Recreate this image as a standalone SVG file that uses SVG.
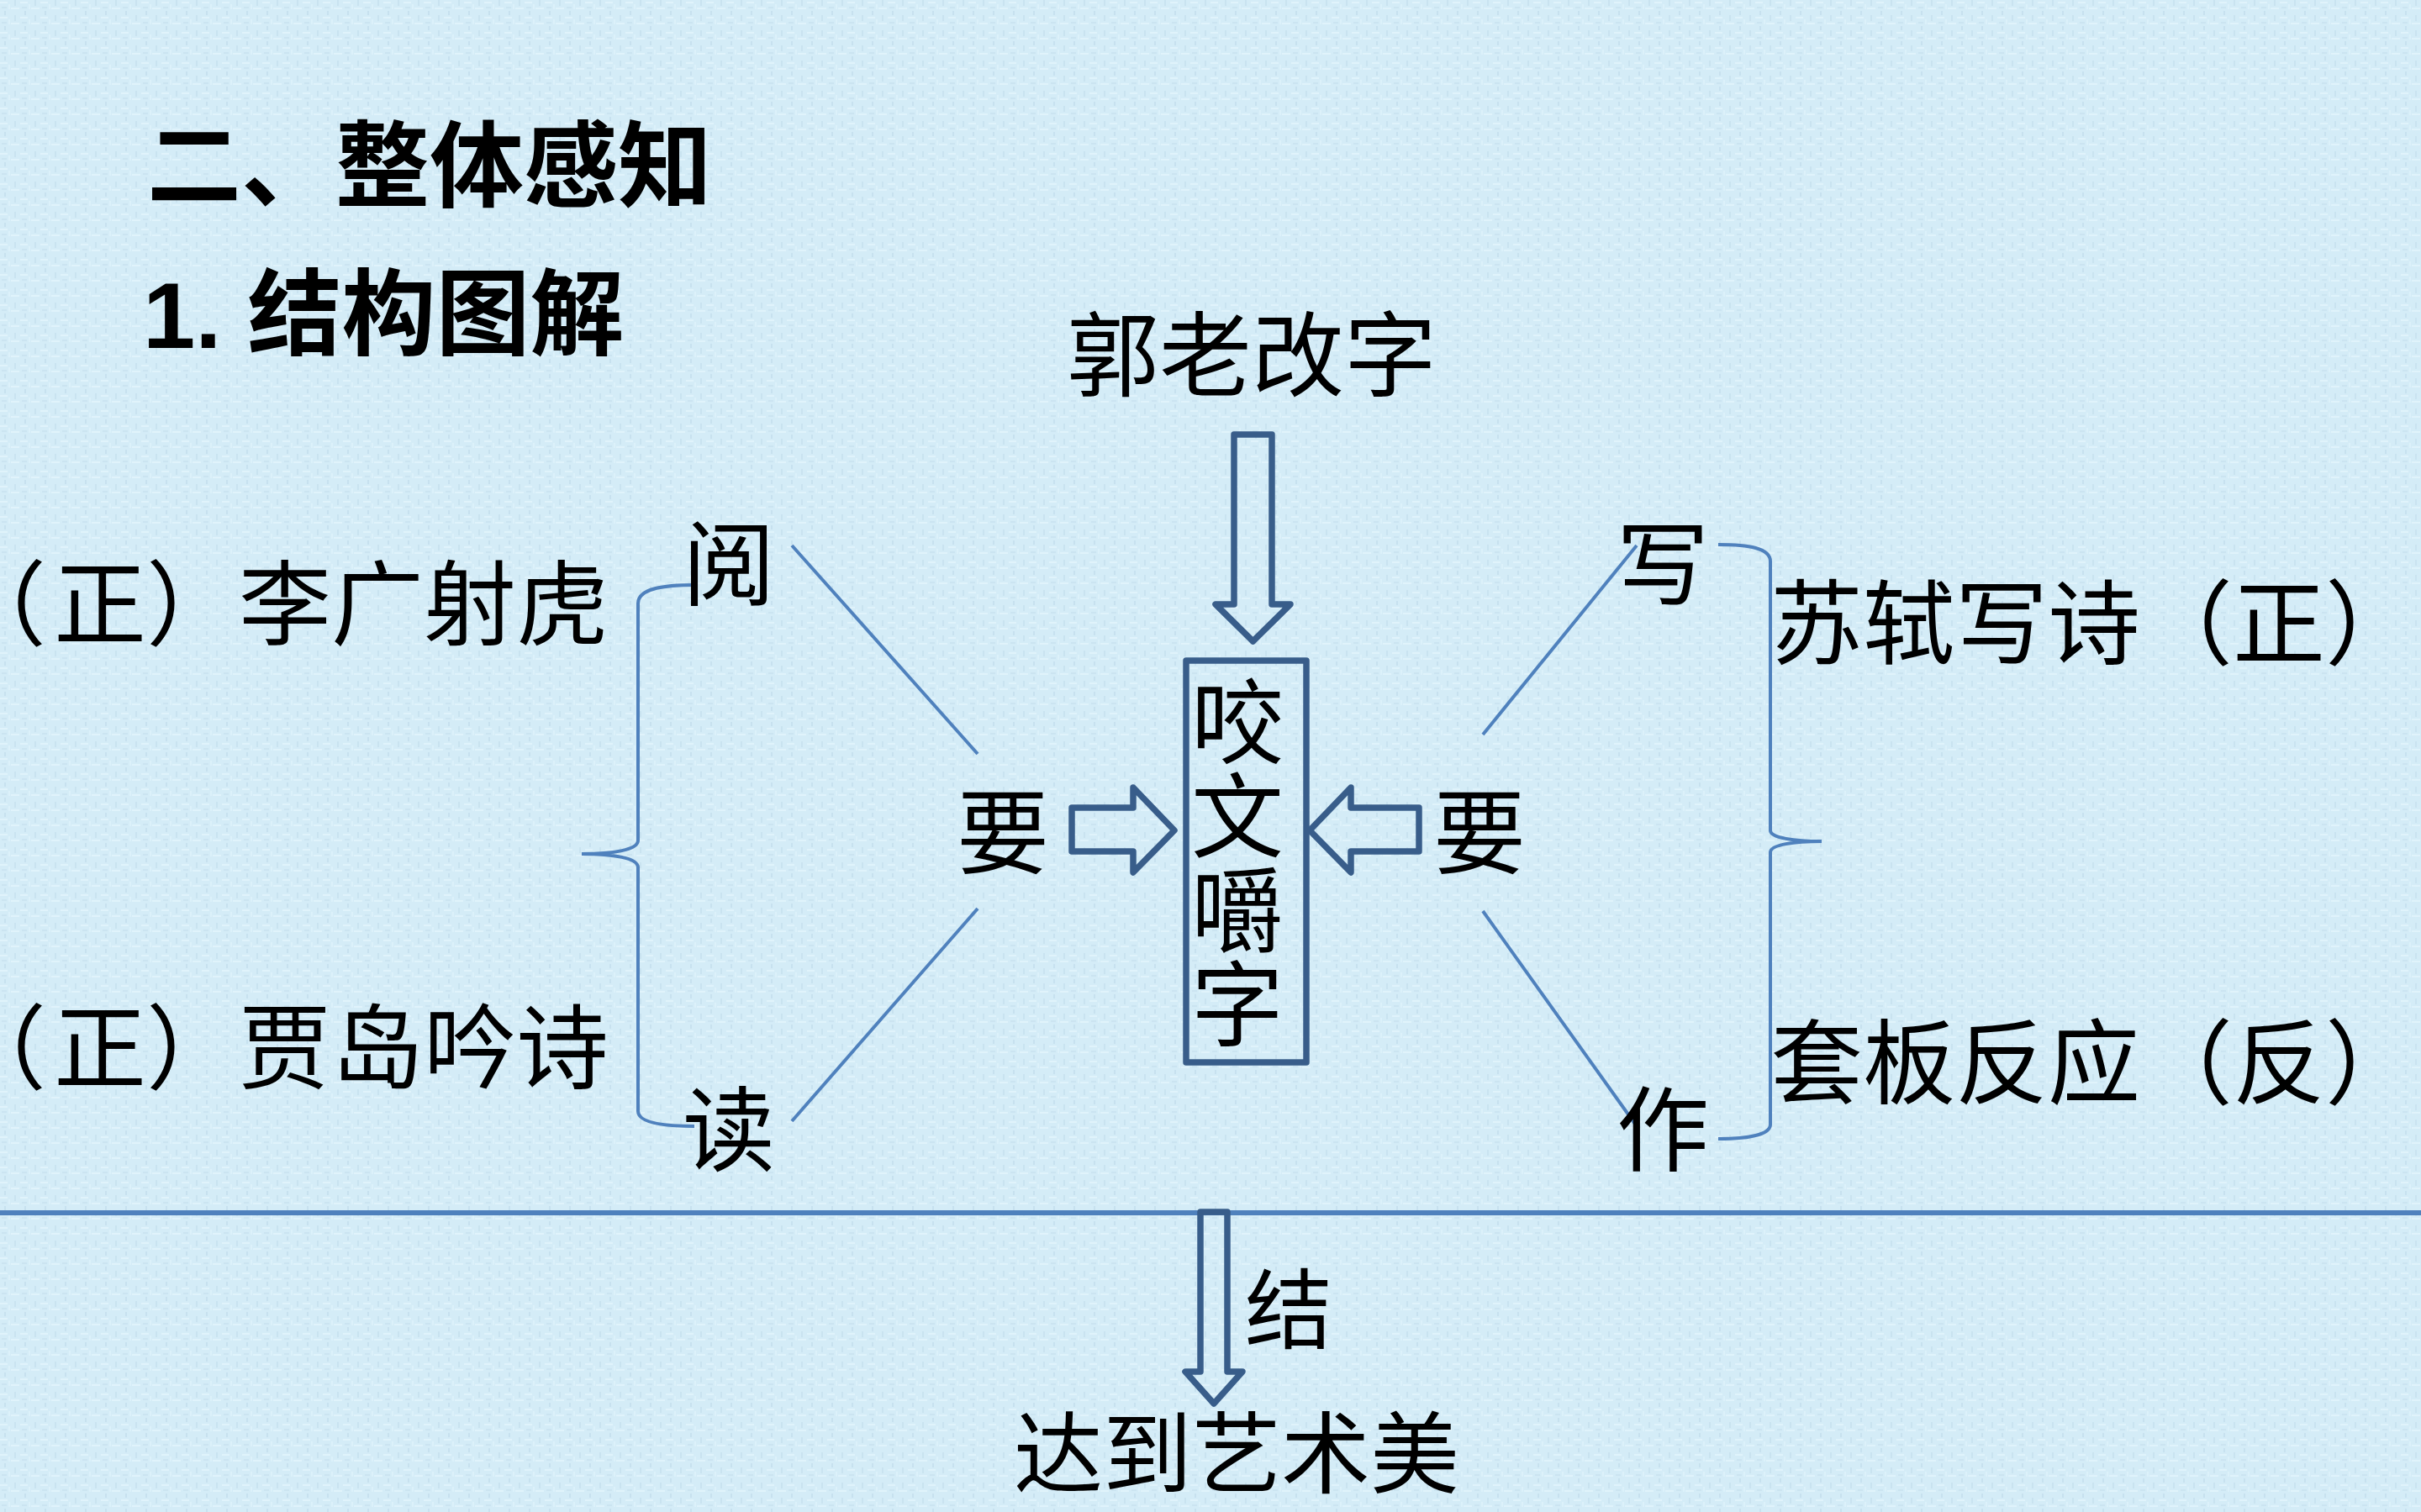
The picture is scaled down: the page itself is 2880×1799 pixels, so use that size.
<svg xmlns="http://www.w3.org/2000/svg" width="2880" height="1799" viewBox="0 0 2880 1799">
<defs>
<pattern id="canvas" width="24" height="18" patternUnits="userSpaceOnUse">
<rect width="24" height="18" fill="#d4ecf7"/>
<rect x="0" y="2" width="9" height="2" fill="#e0f3fb"/>
<rect x="13" y="9" width="10" height="2" fill="#e0f3fb"/>
<rect x="5" y="13" width="2" height="5" fill="#c7e1ef"/>
<rect x="17" y="0" width="2" height="7" fill="#c9e3f0"/>
<rect x="10" y="5" width="2" height="6" fill="#dcf1fa"/>
<rect x="2" y="8" width="6" height="2" fill="#cbe4f1"/>
</pattern>
<style>
.t{font-family:"Noto Sans CJK SC","Noto Sans CJK JP",sans-serif;fill:#000;}
.h{font-weight:700;font-size:112px;}
.b{font-weight:400;font-size:110px;}
.m{text-anchor:middle;}
.halt{font-feature-settings:"halt" 1;}
.thick{fill:none;stroke:#385d8a;stroke-width:7.5;stroke-linejoin:round;}
.thin{fill:none;stroke:#4f81bd;stroke-width:4;}
</style>
</defs>
<rect width="2880" height="1799" fill="url(#canvas)"/>

<g id="title1"><text class="t h" x="175" y="238">二、整体感知</text></g>
<g id="title2"><text class="t h" x="170" y="414" style="font-family:'Liberation Sans','Noto Sans CJK SC',sans-serif">1. 结构图解</text></g>

<g id="connectors">
<line class="thin" x1="0" y1="1443" x2="2880" y2="1443" style="stroke-width:6"/>
<line class="thin" x1="942" y1="649" x2="1163" y2="897"/>
<line class="thin" x1="1163" y1="1081" x2="942" y2="1334"/>
<line class="thin" x1="1764" y1="874" x2="1947" y2="649"/>
<line class="thin" x1="1764" y1="1084" x2="1947" y2="1340"/>
<path class="thin" d="M826,696 C790,696 759,700 759,718 L759,1000 C759,1011 730,1016 692,1016 C730,1016 759,1021 759,1032 L759,1322 C759,1336 790,1340 826,1340"/>
<path class="thin" d="M2044,648 C2080,648 2106,652 2106,668 L2106,988 C2106,997 2135,1001 2167,1001 C2135,1001 2106,1005 2106,1014 L2106,1338 C2106,1350 2080,1355 2044,1355"/>
<polygon class="thick" points="1468,517 1513,517 1513,719 1535,719 1490.5,763 1446,719 1468,719"/>
<polygon class="thick" points="1275,961 1348,961 1348,937 1397,988 1348,1038 1348,1013 1275,1013"/>
<polygon class="thick" points="1688,961 1607,961 1607,937 1558,988 1607,1038 1607,1013 1688,1013"/>
<polygon class="thick" points="1428,1442 1460,1442 1460,1632 1478,1632 1444,1670 1410,1632 1428,1632"/>
</g>

<g id="guolao"><text class="t b m" x="1489" y="463">郭老改字</text></g>
<g id="center">
<rect class="thick" x="1411" y="786" width="143" height="478"/>
<text class="t b" x="1472" y="803" style="writing-mode:vertical-rl;letter-spacing:2px">咬文嚼字</text>
</g>
<g id="yao-left"><text class="t b m" x="1193" y="1031">要</text></g>
<g id="yao-right"><text class="t b m" x="1760" y="1031">要</text></g>
<g id="yue"><text class="t b m" x="867" y="712">阅</text></g>
<g id="du"><text class="t b m" x="867" y="1385">读</text></g>
<g id="xie"><text class="t b m" x="1978" y="712">写</text></g>
<g id="zuo"><text class="t b m" x="1978" y="1385">作</text></g>
<g id="liguang"><text class="t b" y="759"><tspan class="halt" x="0">（</tspan><tspan x="64">正）李广射虎</tspan></text></g>
<g id="jiadao"><text class="t b" y="1287"><tspan class="halt" x="0">（</tspan><tspan x="64">正）贾岛吟诗</tspan></text></g>
<g id="sushi"><text class="t b" x="2106" y="782">苏轼写诗（正）</text></g>
<g id="taoban"><text class="t b" x="2106" y="1305">套板反应（反）</text></g>
<g id="jie"><text class="t b m" x="1533" y="1597" style="font-size:104px">结</text></g>
<g id="result"><text class="t b m" x="1471" y="1768" style="font-size:106px">达到艺术美</text></g>
</svg>
